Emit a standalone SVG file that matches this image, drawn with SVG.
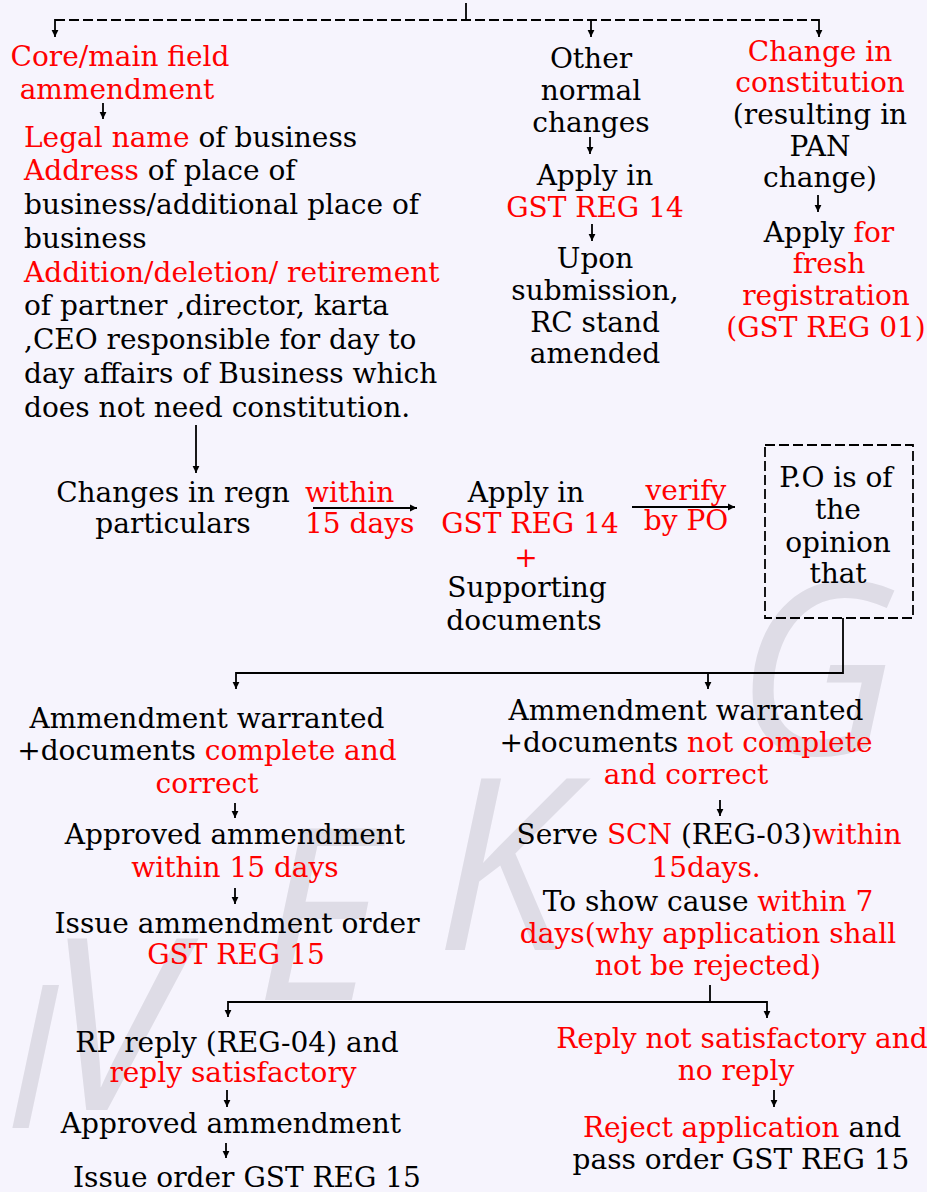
<svg xmlns="http://www.w3.org/2000/svg" width="927" height="1192" viewBox="0 0 927 1192">
<style>
text{font-family:"DejaVu Serif","Liberation Serif",serif;font-size:28px;fill:#000}
.r{fill:#ff0000}
.m{text-anchor:middle}
.ln{stroke:#000;stroke-width:1.8;fill:none}
.ar{stroke:#000;stroke-width:1.8;fill:none;marker-end:url(#ah)}
.wm{font-family:"Open Sans","DejaVu Sans",sans-serif;font-size:240px;font-style:italic;fill:#dedce6}
</style>
<defs>
<marker id="ah" markerUnits="userSpaceOnUse" markerWidth="8" markerHeight="8" refX="7" refY="4" orient="auto">
<path d="M0,0.6 L7,4 L0,7.4 z" fill="#000"/>
</marker>
</defs>
<rect width="927" height="1192" fill="#f6f4fd"/>
<g id="watermark">
<text class="wm" x="4" y="1128" style="font-size:200px">I</text>
<text class="wm" x="45" y="1110">V</text>
<text class="wm" x="255" y="1000">E</text>
<text class="wm" x="435" y="950">K</text>
<text class="wm" x="735" y="755">G</text>
</g>
<g id="connectors">
<line class="ln" x1="466" y1="3" x2="466" y2="20"/>
<line class="ln" x1="55" y1="20" x2="819" y2="20" stroke-dasharray="10 4"/>
<line class="ar" x1="55" y1="19" x2="55" y2="37"/>
<line class="ar" x1="591" y1="20" x2="591" y2="37"/>
<line class="ar" x1="819" y1="19" x2="819" y2="37"/>
<line class="ar" x1="103" y1="103" x2="103" y2="119"/>
<line class="ar" x1="590" y1="137" x2="590" y2="154"/>
<line class="ar" x1="592" y1="224" x2="592" y2="241"/>
<line class="ar" x1="818" y1="195" x2="818" y2="212"/>
<line class="ar" x1="196" y1="425" x2="196" y2="473"/>
<line class="ar" x1="313" y1="508" x2="417" y2="508"/>
<line class="ar" x1="632" y1="507" x2="735" y2="507"/>
<polyline class="ln" points="843,618 843,673 236,673"/>
<line class="ar" x1="236" y1="672" x2="236" y2="689"/>
<line class="ar" x1="708" y1="673" x2="708" y2="689"/>
<line class="ar" x1="235" y1="803" x2="235" y2="818"/>
<line class="ar" x1="235" y1="888" x2="235" y2="904"/>
<line class="ar" x1="720" y1="800" x2="720" y2="816"/>
<line class="ln" x1="710" y1="985" x2="710" y2="1002"/>
<line class="ln" x1="228" y1="1002" x2="767" y2="1002"/>
<line class="ar" x1="228" y1="1001" x2="228" y2="1017"/>
<line class="ar" x1="767" y1="1001" x2="767" y2="1018"/>
<line class="ar" x1="227" y1="1090" x2="227" y2="1107"/>
<line class="ar" x1="226" y1="1143" x2="226" y2="1158"/>
<line class="ar" x1="774" y1="1090" x2="774" y2="1107"/>
</g>
<g id="core-main">
<text class="r m" x="120" y="66">Core/main field</text>
<text class="r m" x="117" y="99">ammendment</text>
</g>
<g id="core-list">
<text x="24" y="146.5"><tspan class="r">Legal name</tspan> of business</text>
<text x="24" y="180"><tspan class="r">Address</tspan> of place of</text>
<text x="24" y="214">business/additional place of</text>
<text x="24" y="247.5">business</text>
<text x="24" y="281.5" class="r">Addition/deletion/ retirement</text>
<text x="24" y="315">of partner ,director, karta</text>
<text x="24" y="349">,CEO responsible for day to</text>
<text x="24" y="383">day affairs of Business which</text>
<text x="24" y="416.5">does not need constitution.</text>
</g>
<g id="other-normal">
<text class="m" x="591" y="68">Other</text>
<text class="m" x="591" y="100">normal</text>
<text class="m" x="591" y="132">changes</text>
</g>
<g id="apply-14-top">
<text class="m" x="595" y="185">Apply in</text>
<text class="m r" x="595" y="217">GST REG 14</text>
</g>
<g id="upon-submission">
<text class="m" x="595" y="268">Upon</text>
<text class="m" x="595" y="300">submission,</text>
<text class="m" x="595" y="332">RC stand</text>
<text class="m" x="595" y="363">amended</text>
</g>
<g id="change-constitution">
<text class="m r" x="820" y="61">Change in</text>
<text class="m r" x="820" y="92">constitution</text>
<text class="m" x="820" y="124">(resulting in</text>
<text class="m" x="820" y="156">PAN</text>
<text class="m" x="820" y="187">change)</text>
</g>
<g id="fresh-registration">
<text class="m" x="829" y="242">Apply <tspan class="r">for</tspan></text>
<text class="m r" x="829" y="273">fresh</text>
<text class="m r" x="826" y="305">registration</text>
<text class="m r" x="826" y="337">(GST REG 01)</text>
</g>
<g id="changes-regn">
<text class="m" x="173" y="502">Changes in regn</text>
<text class="m" x="173" y="533">particulars</text>
</g>
<g id="label-within">
<text class="r" x="305" y="502">within</text>
<text class="r" x="305" y="533">15 days</text>
</g>
<g id="apply-14">
<text class="m" x="526" y="502">Apply in</text>
<text class="m r" x="530" y="533">GST REG 14</text>
<text class="m r" x="526" y="567">+</text>
<text class="m" x="527" y="597">Supporting</text>
<text class="m" x="524" y="630">documents</text>
</g>
<g id="label-verify">
<text class="m r" x="686" y="500">verify</text>
<text class="m r" x="686" y="530">by PO</text>
</g>
<g id="po-opinion">
<rect x="765" y="445" width="148" height="173" fill="none" stroke="#000" stroke-width="1.8" stroke-dasharray="10 4"/>
<text class="m" x="836" y="487">P.O is of</text>
<text class="m" x="838" y="519">the</text>
<text class="m" x="838" y="552">opinion</text>
<text class="m" x="838" y="583">that</text>
</g>
<g id="warranted-complete">
<text class="m" x="207" y="728">Ammendment warranted</text>
<text class="m" x="207" y="760">+documents <tspan class="r">complete and</tspan></text>
<text class="m r" x="207" y="793">correct</text>
</g>
<g id="approved-15">
<text class="m" x="235" y="844">Approved ammendment</text>
<text class="m r" x="235" y="877">within 15 days</text>
</g>
<g id="issue-order">
<text class="m" x="237" y="933">Issue ammendment order</text>
<text class="m r" x="236" y="964">GST REG 15</text>
</g>
<g id="warranted-incomplete">
<text class="m" x="686" y="720">Ammendment warranted</text>
<text class="m" x="686" y="752">+documents <tspan class="r">not complete</tspan></text>
<text class="m r" x="686" y="784">and correct</text>
</g>
<g id="scn">
<text class="m" x="709" y="844">Serve <tspan class="r">SCN</tspan> (REG-03)<tspan class="r">within</tspan></text>
<text class="m r" x="706" y="877">15days.</text>
<text class="m" x="708" y="911">To show cause <tspan class="r">within 7</tspan></text>
<text class="m r" x="708" y="943">days(why application shall</text>
<text class="m r" x="708" y="975">not be rejected)</text>
</g>
<g id="reply-satisfactory">
<text class="m" x="237" y="1052">RP reply (REG-04) and</text>
<text class="m r" x="233" y="1082">reply satisfactory</text>
</g>
<g id="approved-final">
<text class="m" x="231" y="1133">Approved ammendment</text>
</g>
<g id="issue-final">
<text class="m" x="247" y="1187">Issue order GST REG 15</text>
</g>
<g id="reply-not-satisfactory">
<text class="m r" x="742" y="1048">Reply not satisfactory and</text>
<text class="m r" x="736" y="1080">no reply</text>
</g>
<g id="reject">
<text class="m" x="742" y="1137"><tspan class="r">Reject application</tspan> and</text>
<text class="m" x="741" y="1169">pass order GST REG 15</text>
</g>
</svg>
